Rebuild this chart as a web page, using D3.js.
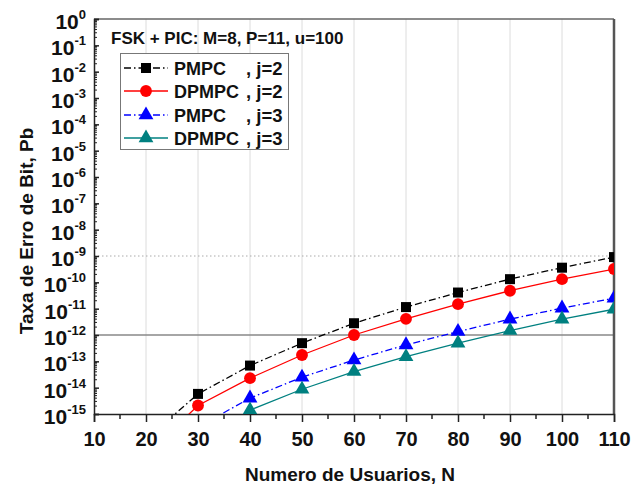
<!DOCTYPE html>
<html>
<head>
<meta charset="utf-8">
<script src="https://cdn.jsdelivr.net/npm/d3@7"></script>
<style>
  body { margin: 0; background: #fff; }
  svg { display: block; font-family: "Liberation Sans", Arial, sans-serif; font-weight: bold; }
</style>
</head>
<body>
<svg id="chart" width="633" height="488"></svg>
<script>
// ---- data ----
const users = [20, 30, 40, 50, 60, 70, 80, 90, 100, 110];
const pmpcJ2  = [1.07e-16, 5.8e-15, 6.9e-14, 4.9e-13, 2.8e-12, 1.15e-11, 4.1e-11, 1.32e-10, 3.6e-10, 9.1e-10];
const dpmpcJ2 = [2.75e-17, 2.1e-15, 2.3e-14, 1.74e-13, 1.0e-12, 4.1e-12, 1.48e-11, 4.8e-11, 1.32e-10, 3.2e-10];
const pmpcJ3  = [null, 3.2e-16, 4.0e-15, 2.5e-14, 1.12e-13, 4.2e-13, 1.35e-12, 4.0e-12, 1.05e-11, 2.5e-11];
const dpmpcJ3 = [null, 5e-18, 1.41e-15, 8.7e-15, 4.1e-14, 1.5e-13, 4.9e-13, 1.48e-12, 4.0e-12, 9.5e-12];
const seriesNames = ["PMPC", "DPMPC", "PMPC", "DPMPC"];
const seriesJ = [", j=2", ", j=2", ", j=3", ", j=3"];
const xTicks = [10, 20, 30, 40, 50, 60, 70, 80, 90, 100, 110];
const yExponents = [0, -1, -2, -3, -4, -5, -6, -7, -8, -9, -10, -11, -12, -13, -14, -15];
const refLines = [1e-9, 1e-12];
const titleText = "FSK + PIC: M=8, P=11, u=100";
const xTitle = "Numero de Usuarios, N";
const yTitle = "Taxa de Erro de Bit, Pb";

// ---- layout ----
const svg = d3.select("#chart");
const L = 94, T = 19, W = 520, H = 395;
const x = d3.scaleLinear().domain([10, 110]).range([L, L + W]);
const y = d3.scaleLog().domain([1e-15, 1]).range([T + H, T]);

svg.append("defs").append("clipPath").attr("id", "plotclip")
  .append("rect").attr("x", L).attr("y", T).attr("width", W).attr("height", H);

// vertical grid
svg.append("g").selectAll("line").data(xTicks.slice(1, -1)).join("line")
  .attr("x1", d => x(d)).attr("x2", d => x(d)).attr("y1", T).attr("y2", T + H)
  .attr("stroke", "#dcdcdc").attr("stroke-width", 1);

// reference lines
svg.append("line").attr("x1", L).attr("x2", L + W).attr("y1", y(refLines[0])).attr("y2", y(refLines[0]))
  .attr("stroke", "#aaa").attr("stroke-width", 1).attr("stroke-dasharray", "1.5,2.5");
svg.append("line").attr("x1", L).attr("x2", L + W).attr("y1", y(refLines[1])).attr("y2", y(refLines[1]))
  .attr("stroke", "#888").attr("stroke-width", 1.5);

// frame: top and right
svg.append("line").attr("x1", L).attr("x2", L + W).attr("y1", T).attr("y2", T).attr("stroke", "#666").attr("stroke-width", 1.5);
svg.append("line").attr("x1", L + W).attr("x2", L + W).attr("y1", T).attr("y2", T + H).attr("stroke", "#555").attr("stroke-width", 2.5);

// x axis
const xAxis = svg.append("g").attr("transform", `translate(0,${T + H})`)
  .call(d3.axisBottom(x).tickValues(xTicks).tickSize(8).tickFormat(d3.format("d")));
xAxis.select(".domain").attr("stroke", "#222").attr("stroke-width", 1.5);
xAxis.selectAll(".tick line").attr("stroke", "#222").attr("stroke-width", 1.5);
xAxis.selectAll("text").attr("font-size", 20).attr("font-weight", "bold").attr("fill", "#111")
  .attr("font-family", "Liberation Sans, Arial, sans-serif").attr("dy", "1.05em");
const xMinor = d3.range(15, 110, 10);
svg.append("g").selectAll("line").data(xMinor).join("line")
  .attr("x1", d => x(d)).attr("x2", d => x(d)).attr("y1", T + H).attr("y2", T + H + 5)
  .attr("stroke", "#222").attr("stroke-width", 1.5);

// y axis (ticks inside)
const yMajor = yExponents.map(e => Math.pow(10, e));
const yAxis = svg.append("g").attr("transform", `translate(${L},0)`)
  .call(d3.axisRight(y).tickValues(yMajor).tickSize(5).tickFormat(""));
yAxis.select(".domain").attr("stroke", "#222").attr("stroke-width", 1.5);
yAxis.selectAll(".tick line").attr("stroke", "#222").attr("stroke-width", 1.5);
const yMinor = [];
yExponents.slice(1).forEach(e => { for (let k = 2; k <= 9; k++) yMinor.push(k * Math.pow(10, e)); });
svg.append("g").selectAll("line").data(yMinor).join("line")
  .attr("x1", L).attr("x2", L + 3).attr("y1", d => y(d)).attr("y2", d => y(d))
  .attr("stroke", "#222").attr("stroke-width", 1);

// y tick labels 10^e
const yl = svg.append("g").selectAll("text").data(yExponents).join("text")
  .attr("x", L - 8).attr("y", d => y(Math.pow(10, d)) + 10)
  .attr("text-anchor", "end").attr("fill", "#111");
yl.append("tspan").attr("font-size", 21).text("10");
yl.append("tspan").attr("font-size", 13).attr("dy", -10).text(d => d);

// axis titles
svg.append("text").attr("x", 350).attr("y", 481).attr("text-anchor", "middle")
  .attr("font-size", 19).attr("fill", "#111").text(xTitle);
svg.append("text").attr("transform", `translate(33,231) rotate(-90)`).attr("text-anchor", "middle")
  .attr("font-size", 19).attr("fill", "#111").text(yTitle);

// series
const series = [
  { vals: pmpcJ2,  color: "#000000", dash: "7,3,1.5,3", marker: "square" },
  { vals: dpmpcJ2, color: "#ff0000", dash: null, marker: "circle" },
  { vals: pmpcJ3,  color: "#0000ff", dash: "7,3,1.5,3", marker: "triangle" },
  { vals: dpmpcJ3, color: "#008080", dash: null, marker: "triangle" }
];
const symType = { square: d3.symbolSquare, circle: d3.symbolCircle, triangle: d3.symbolTriangle };
const symSize = { square: 100, circle: 110, triangle: 95 };
const plot = svg.append("g").attr("clip-path", "url(#plotclip)");
const line = d3.line().defined(d => d[1] != null).x(d => x(d[0])).y(d => y(d[1]));
series.forEach(s => {
  const pts = users.map((u, i) => [u, s.vals[i]]);
  plot.append("path").datum(pts).attr("d", line).attr("fill", "none")
    .attr("stroke", s.color).attr("stroke-width", 1.3).attr("stroke-dasharray", s.dash);
});
series.forEach(s => {
  const pts = users.map((u, i) => [u, s.vals[i]]).filter(d => d[1] != null);
  plot.append("g").selectAll("path").data(pts).join("path")
    .attr("transform", d => `translate(${x(d[0])},${y(d[1])})`)
    .attr("d", d3.symbol().type(symType[s.marker]).size(symSize[s.marker]))
    .attr("fill", s.color);
});

// title inside plot
svg.append("text").attr("x", 111).attr("y", 44).attr("font-size", 17).attr("fill", "#111").text(titleText);

// legend
const lg = svg.append("g");
lg.append("rect").attr("x", 120.5).attr("y", 53.5).attr("width", 168).attr("height", 96)
  .attr("fill", "#fff").attr("stroke", "#777").attr("stroke-width", 1);
const rowY = [68, 91, 115, 138];
series.forEach((s, i) => {
  lg.append("line").attr("x1", 124).attr("x2", 168).attr("y1", rowY[i]).attr("y2", rowY[i])
    .attr("stroke", s.color).attr("stroke-width", 1.3).attr("stroke-dasharray", s.dash);
  lg.append("path").attr("transform", `translate(146,${rowY[i]})`)
    .attr("d", d3.symbol().type(symType[s.marker]).size(symSize[s.marker])).attr("fill", s.color);
  lg.append("text").attr("x", 174).attr("y", rowY[i] + 7).attr("font-size", 18).attr("fill", "#111").text(seriesNames[i]);
  lg.append("text").attr("x", 246).attr("y", rowY[i] + 7).attr("font-size", 18.5).attr("fill", "#111").text(seriesJ[i]);
});
</script>
</body>
</html>
